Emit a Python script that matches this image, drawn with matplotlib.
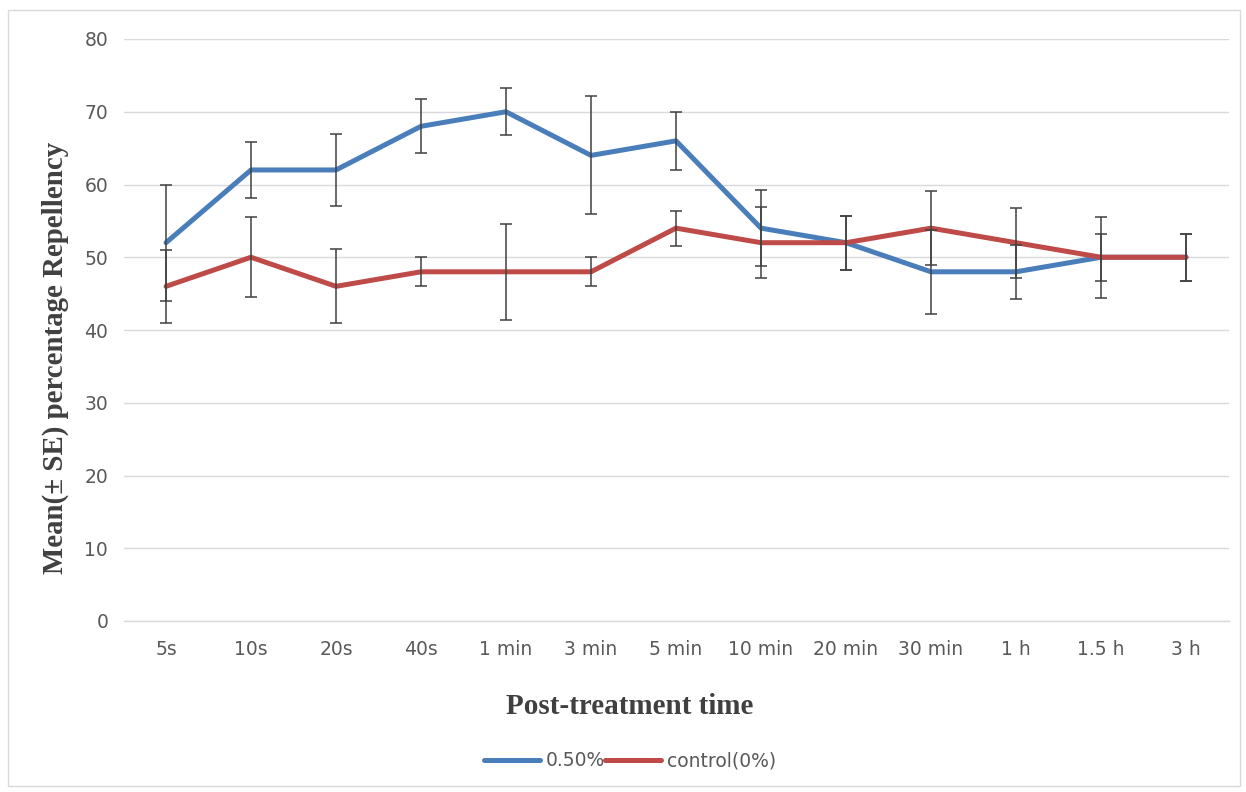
import numpy as np
import matplotlib.pyplot as plt
from matplotlib.patches import Rectangle

# time points after treatment
times = ['5s', '10s', '20s', '40s', '1 min', '3 min', '5 min',
         '10 min', '20 min', '30 min', '1 h', '1.5 h', '3 h']

# mean repellency (%) and standard errors
treat_mean = [52, 62, 62, 68, 70, 64, 66, 54, 52, 48, 48, 50, 50]
treat_se = [8, 3.8, 4.9, 3.7, 3.2, 8.1, 4, 5.2, 3.7, 5.8, 3.7, 3.2, 3.2]
ctrl_mean = [46, 50, 46, 48, 48, 48, 54, 52, 52, 54, 52, 50, 50]
ctrl_se = [5, 5.5, 5.1, 2, 6.6, 2, 2.4, 4.9, 3.7, 5.1, 4.8, 5.6, 3.2]

blue = '#4a7ebb'
red = '#be4b48'
grey_txt = '#595959'

fig = plt.figure(figsize=(12.46, 7.92), dpi=100)
ax = fig.add_axes([123.5 / 1246, 1 - 621 / 792, 1105 / 1246, 582 / 792])

x = np.arange(len(times))
ax.plot(x, treat_mean, color=blue, lw=3.6, solid_capstyle='round',
        solid_joinstyle='round', label='0.50%', zorder=3)
ax.plot(x, ctrl_mean, color=red, lw=3.6, solid_capstyle='round',
        solid_joinstyle='round', label='control(0%)', zorder=3)
ax.errorbar(x, treat_mean, yerr=treat_se, fmt='none', ecolor='#404040',
            elinewidth=1.1, capsize=4, capthick=1.1, zorder=4)
ax.errorbar(x, ctrl_mean, yerr=ctrl_se, fmt='none', ecolor='#404040',
            elinewidth=1.1, capsize=4, capthick=1.1, zorder=4)

ax.set_xlim(-0.5, len(times) - 0.5)
ax.set_ylim(0, 80)
ax.set_yticks(range(0, 81, 10))
ax.set_xticks(x)
ax.set_xticklabels(times)
ax.grid(axis='y', color='#d9d9d9', lw=1)
ax.set_axisbelow(True)
for s in ax.spines.values():
    s.set_visible(False)
# the zero line sits on the axes edge, so draw it as the bottom spine
ax.spines['bottom'].set_visible(True)
ax.spines['bottom'].set_color('#d9d9d9')
ax.spines['bottom'].set_linewidth(1)
ax.tick_params(length=0, labelsize=13.5, labelcolor=grey_txt)
ax.tick_params(axis='x', pad=14)
ax.tick_params(axis='y', pad=11)

fig.text(55 / 1246, 1 - 358 / 792, 'Mean(\u00b1 SE) percentage Repellency',
         rotation=90, ha='center', va='center', family='Liberation Serif',
         weight='bold', size=20.8, color='#404040')
fig.text(630 / 1246, 1 - 706 / 792, 'Post-treatment time', ha='center',
         va='center', family='Liberation Serif', weight='bold', size=21,
         color='#404040')

leg = fig.legend(loc='center', bbox_to_anchor=(630 / 1246, 1 - 761 / 792),
                 ncol=2, frameon=False, handlelength=3.0, handletextpad=0.3,
                 columnspacing=0.0, prop={'size': 13.5})
for t in leg.get_texts():
    t.set_color(grey_txt)

# thin frame round the whole chart
fig.patches.append(Rectangle((8 / 1246, 6 / 792), 1232 / 1246, 776 / 792,
                             transform=fig.transFigure, fill=False,
                             ec='#d9d9d9', lw=1))

fig.savefig('out.png', dpi=100)
